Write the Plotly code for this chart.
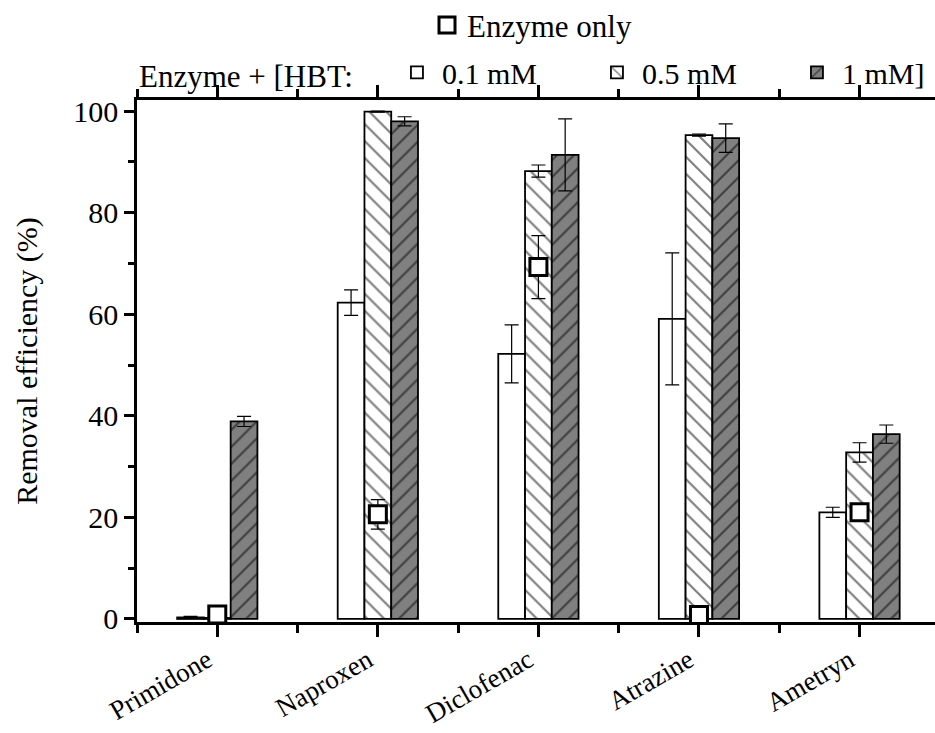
import plotly.graph_objects as go

categories = ["Primidone", "Naproxen", "Diclofenac", "Atrazine", "Ametryn"]
hbt_01 = [0.3, 62.3, 52.2, 59.1, 21.0]
hbt_01_err = [0.2, 2.5, 5.7, 13.0, 1.0]
hbt_05 = [0.2, 99.9, 88.2, 95.3, 32.8]
hbt_05_err = [0.1, 0.1, 1.2, 0.2, 1.9]
hbt_1 = [38.9, 98.0, 91.4, 94.7, 36.4]
hbt_1_err = [1.0, 0.9, 7.1, 2.8, 1.8]
enzyme_only = [0.9, 20.6, 69.3, 0.8, 21.0]
enzyme_only_err = [0.3, 2.9, 6.2, 0.3, 0.6]
yticks = [0, 20, 40, 60, 80, 100]

FONT = "Liberation Serif, Times New Roman, Times, serif"
xpos = list(range(len(categories)))

def err(vals):
    return dict(type="data", array=vals, visible=True, color="black", thickness=1.2, width=7)

fig = go.Figure()
fig.add_trace(go.Bar(
    x=xpos, y=hbt_01, name="0.1 mM", error_y=err(hbt_01_err),
    marker=dict(color="white", line=dict(color="black", width=1.8)),
    legend="legend"))
fig.add_trace(go.Bar(
    x=xpos, y=hbt_05, name="0.5 mM", error_y=err(hbt_05_err),
    marker=dict(color="white", line=dict(color="black", width=1.8),
                pattern=dict(shape="\\", bgcolor="white", fgcolor="black", size=12, solidity=0.18)),
    legend="legend"))
fig.add_trace(go.Bar(
    x=xpos, y=hbt_1, name="1 mM]", error_y=err(hbt_1_err),
    marker=dict(color="#808080", line=dict(color="black", width=1.8),
                pattern=dict(shape="/", bgcolor="#808080", fgcolor="black", size=12, solidity=0.18)),
    legend="legend"))
fig.add_trace(go.Scatter(
    x=xpos, y=enzyme_only, name="Enzyme only", mode="markers",
    error_y=err(enzyme_only_err),
    marker=dict(symbol="square", size=17, color="white", line=dict(color="black", width=3)),
    legend="legend2"))

fig.update_layout(
    width=935, height=733,
    margin=dict(l=137, r=0, t=100, b=111, autoexpand=False),
    paper_bgcolor="white", plot_bgcolor="white",
    barmode="group", bargap=0.5, bargroupgap=0,
    font=dict(family=FONT, size=28, color="black"),
    legend=dict(orientation="h", x=0.0, xanchor="left", y=1.053, yanchor="middle",
                title=dict(text="Enzyme + [HBT:\u00a0\u00a0\u00a0\u00a0", side="left",
                           font=dict(family=FONT, size=31)),
                font=dict(family=FONT, size=30), bgcolor="rgba(255,255,255,0)",
                traceorder="normal", itemwidth=40, entrywidth=145, entrywidthmode="pixels"),
    legend2=dict(orientation="h", x=0.495, xanchor="center", y=1.143, yanchor="middle",
                 font=dict(family=FONT, size=31), bgcolor="rgba(255,255,255,0)"),
    showlegend=True,
)

fig.update_xaxes(
    range=[-0.5, 4.47], tickmode="array", tickvals=xpos, ticktext=categories,
    tickangle=-30, tickfont=dict(family=FONT, size=27),
    ticklabelshift=-10, ticklabelstandoff=-3,
    showline=True, linecolor="black", linewidth=3, mirror="ticks",
    ticks="outside", ticklen=12, tickwidth=2.5, tickcolor="black",
    minor=dict(tickmode="linear", tick0=-0.5, dtick=1, ticks="outside", ticklen=8,
               tickwidth=2.5, tickcolor="black"),
    showgrid=False, zeroline=False, automargin=False,
)
fig.update_yaxes(
    range=[-0.6, 102.2], tickmode="array", tickvals=yticks, ticktext=[str(v) for v in yticks],
    tickfont=dict(family=FONT, size=30),
    showline=True, linecolor="black", linewidth=2.5, mirror=False,
    ticks="outside", ticklen=10, tickwidth=2.5, tickcolor="black",
    minor=dict(tickmode="linear", tick0=0, dtick=10, ticks="outside", ticklen=6,
               tickwidth=2.5, tickcolor="black"),
    title=dict(text="Removal efficiency (%)", font=dict(family=FONT, size=30), standoff=27),
    showgrid=False, zeroline=False, automargin=False,
)

fig.write_html("out.html", config={"displayModeBar": False},
               post_script="document.body.style.margin='0';document.body.style.padding='0';")
